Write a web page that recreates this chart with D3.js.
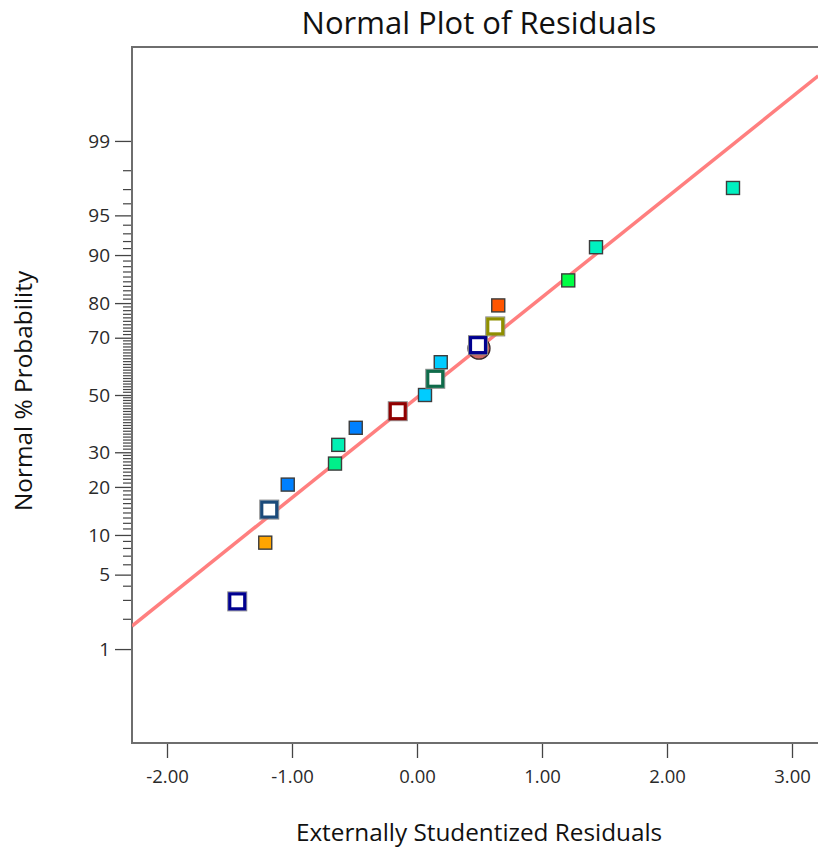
<!DOCTYPE html>
<html>
<head>
<meta charset="utf-8">
<script src="https://cdn.jsdelivr.net/npm/d3@7"></script>
<style>
  html, body { margin: 0; padding: 0; background: #fff; }
  svg { display: block; }
</style>
</head>
<body>
<script>
// ---------- data ----------
const residuals = [-1.438, -1.214, -1.182, -1.034, -0.656, -0.630, -0.490, -0.154, 0.064, 0.146, 0.190, 0.488, 0.626, 0.650, 1.210, 1.432, 2.528];
const probabilities = [2.94, 8.82, 14.7, 20.6, 26.5, 32.4, 38.2, 44.1, 50.0, 55.9, 61.8, 67.6, 73.5, 79.4, 85.3, 91.2, 97.1];
const markerKinds = ["hollow", "filled", "hollow", "filled", "filled", "filled", "filled", "hollow", "filled", "hollow", "filled", "hollow", "hollow", "filled", "filled", "filled", "filled"];
const markerColors = ["#00008f", "#ffa500", "#1a4a7a", "#0080ff", "#00f08a", "#00f0b4", "#0080ff", "#8f0000", "#00ccff", "#0f6b4a", "#00ccff", "#00008f", "#8f8f00", "#ff5500", "#00ff44", "#00f0c0", "#00f0c0"];
const highlightResidual = [0.496];
const highlightProbability = [66.6];
const fitResidual = [-2.28, 3.21];
const fitProbability = [1.72, 99.826];
const xTicks = [-2, -1, 0, 1, 2, 3];
const yLabelTicks = [1, 5, 10, 20, 30, 50, 70, 80, 90, 95, 99];
const yMinorTicks = d3.range(1, 100);
const xDomain = [-2.28, 3.208];
const yDomainPct = [0.072, 99.928];

// ---------- inverse normal CDF (probit) ----------
function probit(p) {
  const a = [-3.969683028665376e+01, 2.209460984245205e+02, -2.759285104469687e+02, 1.383577518672690e+02, -3.066479806614716e+01, 2.506628277459239e+00];
  const b = [-5.447609879822406e+01, 1.615858368580409e+02, -1.556989798598866e+02, 6.680131188771972e+01, -1.328068155288572e+01];
  const c = [-7.784894002430293e-03, -3.223964580411365e-01, -2.400758277161838e+00, -2.549732539343734e+00, 4.374664141464968e+00, 2.938163982698783e+00];
  const d = [7.784695709041462e-03, 3.224671290700398e-01, 2.445134137142996e+00, 3.754408661907416e+00];
  const pl = 0.02425, ph = 1 - pl;
  let q, r;
  if (p < pl) {
    q = Math.sqrt(-2 * Math.log(p));
    return (((((c[0]*q+c[1])*q+c[2])*q+c[3])*q+c[4])*q+c[5]) / ((((d[0]*q+d[1])*q+d[2])*q+d[3])*q+1);
  } else if (p <= ph) {
    q = p - 0.5; r = q*q;
    return (((((a[0]*r+a[1])*r+a[2])*r+a[3])*r+a[4])*r+a[5])*q / (((((b[0]*r+b[1])*r+b[2])*r+b[3])*r+b[4])*r+1);
  } else {
    q = Math.sqrt(-2 * Math.log(1 - p));
    return -(((((c[0]*q+c[1])*q+c[2])*q+c[3])*q+c[4])*q+c[5]) / ((((d[0]*q+d[1])*q+d[2])*q+d[3])*q+1);
  }
}
const zOf = pct => probit(pct / 100);

// ---------- layout ----------
const W = 818, H = 848;
const mLeft = 132, mTop = 47, mBottom = 743, mRight = 818;
const font = "'Open Sans', 'Noto Sans', sans-serif";

const svg = d3.select("body").append("svg").attr("width", W).attr("height", H);
svg.append("rect").attr("width", W).attr("height", H).attr("fill", "#fff");

const x = d3.scaleLinear().domain(xDomain).range([mLeft, mRight]);
const zScale = d3.scaleLinear().domain(yDomainPct.map(zOf)).range([mBottom, mTop]);
const y = pct => zScale(zOf(pct));

// clip
svg.append("clipPath").attr("id", "clip").append("rect")
  .attr("x", mLeft).attr("y", mTop).attr("width", mRight - mLeft).attr("height", mBottom - mTop);

// title
svg.append("text").attr("x", 479).attr("y", 34).attr("text-anchor", "middle")
  .attr("font-family", font).attr("font-size", 31).attr("fill", "#111")
  .text("Normal Plot of Residuals");

// x axis
const fmt = d3.format(".2f");
const xAxis = d3.axisBottom(x).tickValues(xTicks).tickFormat(d => fmt(d).replace("\u2212", "-")).tickSize(15).tickSizeOuter(0);
const gx = svg.append("g").attr("transform", `translate(0,${mBottom})`).call(xAxis);
gx.select(".domain").remove();
gx.selectAll(".tick line").attr("stroke", "#444").attr("stroke-width", 1.3);
gx.selectAll(".tick text").attr("font-family", font).attr("font-size", 18.5).attr("fill", "#2a2a2a").attr("y", 27).attr("dy", "0.71em");

// y axis minor ticks
const gyMinor = svg.append("g");
gyMinor.selectAll("line").data(yMinorTicks.filter(d => !yLabelTicks.includes(d))).join("line")
  .attr("x1", mLeft - 9).attr("x2", mLeft).attr("y1", d => y(d)).attr("y2", d => y(d))
  .attr("stroke", "#444").attr("stroke-width", 1.2);

// y axis labelled ticks
const yAxis = d3.axisLeft(zScale).tickValues(yLabelTicks.map(zOf)).tickFormat((d, i) => yLabelTicks[i]).tickSize(17).tickSizeOuter(0).tickPadding(5);
const gy = svg.append("g").attr("transform", `translate(${mLeft},0)`).call(yAxis);
gy.select(".domain").remove();
gy.selectAll(".tick line").attr("stroke", "#444").attr("stroke-width", 1.3);
gy.selectAll(".tick text").attr("font-family", font).attr("font-size", 19).attr("fill", "#2a2a2a");

// frame (left, top, bottom)
svg.append("path")
  .attr("d", `M${mRight},${mTop}H${mLeft}V${mBottom}H${mRight}`)
  .attr("fill", "none").attr("stroke", "#6e6e6e").attr("stroke-width", 2);

// axis titles
svg.append("text").attr("x", 479).attr("y", 841).attr("text-anchor", "middle")
  .attr("font-family", font).attr("font-size", 24.3).attr("fill", "#111")
  .text("Externally Studentized Residuals");
svg.append("text").attr("transform", "translate(32,391) rotate(-90)").attr("text-anchor", "middle")
  .attr("font-family", font).attr("font-size", 24.4).attr("fill", "#111")
  .text("Normal % Probability");

const plot = svg.append("g").attr("clip-path", "url(#clip)");

// fit line
plot.append("line")
  .attr("x1", x(fitResidual[0])).attr("y1", y(fitProbability[0]))
  .attr("x2", x(fitResidual[1])).attr("y2", y(fitProbability[1]))
  .attr("stroke", "#ff7f7f").attr("stroke-width", 3.5);

// highlight circle
plot.selectAll("circle.hl").data(highlightResidual).join("circle").attr("class", "hl")
  .attr("cx", (d) => x(d)).attr("cy", (d, i) => y(highlightProbability[i])).attr("r", 11)
  .attr("fill", "#c8605c").attr("stroke", "#3a2a2a").attr("stroke-width", 1.3).attr("fill-opacity", 0.95);

// points
const pts = residuals.map((r, i) => ({ r, p: probabilities[i], kind: markerKinds[i], color: markerColors[i] }));
const filled = pts.filter(d => d.kind === "filled");
const hollow = pts.filter(d => d.kind === "hollow");

const fs = 13;
plot.selectAll("rect.f").data(filled).join("rect").attr("class", "f")
  .attr("x", d => x(d.r) - fs / 2).attr("y", d => y(d.p) - fs / 2)
  .attr("width", fs).attr("height", fs)
  .attr("fill", d => d.color).attr("stroke", "#3c3c3c").attr("stroke-width", 1.4);

const hs = 17;
plot.selectAll("rect.ho").data(hollow).join("rect").attr("class", "ho")
  .attr("x", d => x(d.r) - hs / 2 - 1).attr("y", d => y(d.p) - hs / 2 - 1)
  .attr("width", hs + 2).attr("height", hs + 2)
  .attr("fill", "none").attr("stroke", "#888").attr("stroke-width", 1);
plot.selectAll("rect.h").data(hollow).join("rect").attr("class", "h")
  .attr("x", d => x(d.r) - hs / 2 + 1).attr("y", d => y(d.p) - hs / 2 + 1)
  .attr("width", hs - 2).attr("height", hs - 2)
  .attr("fill", "#fff").attr("stroke", d => d.color).attr("stroke-width", 3.2);
</script>
</body>
</html>
